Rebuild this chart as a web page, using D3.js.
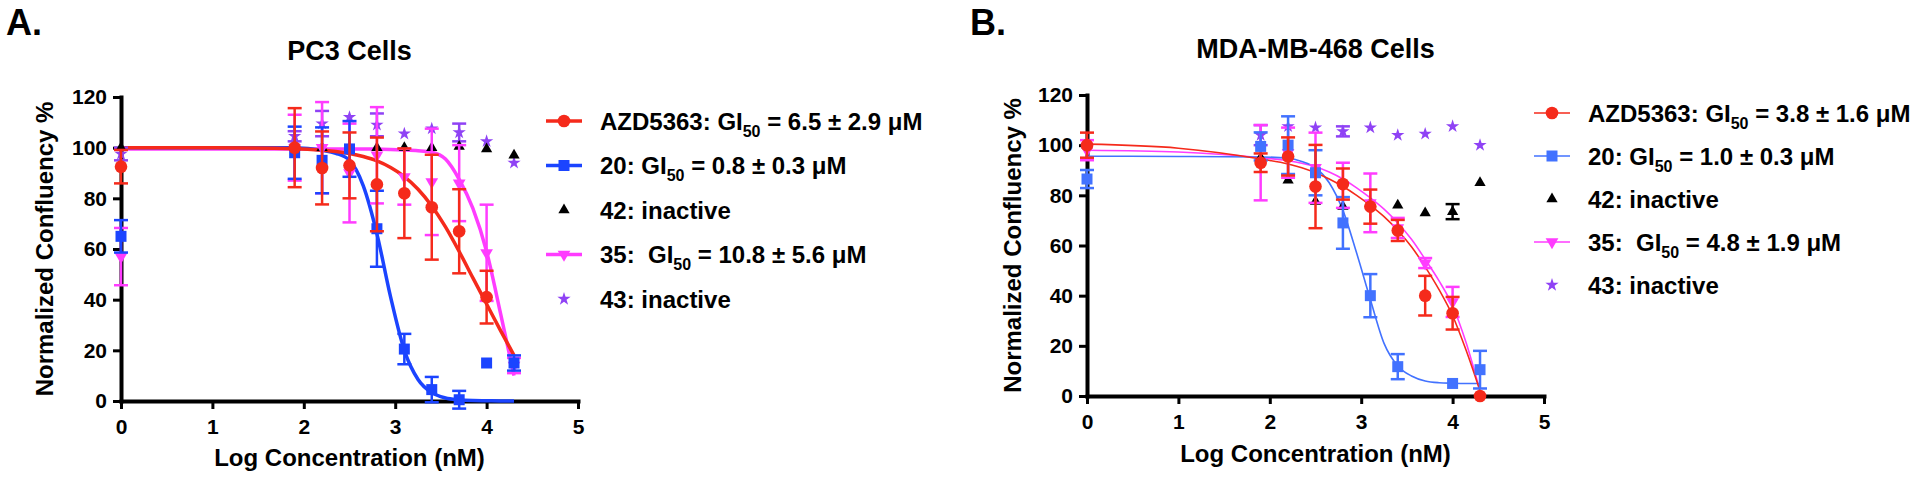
<!DOCTYPE html>
<html>
<head>
<meta charset="utf-8">
<title>PC3 / MDA-MB-468 confluency</title>
<style>
    body { margin: 0; background: #fff; }
    text { font-family: "Liberation Sans", Arial, sans-serif; font-weight: bold; fill: #000; }
    .axis path, .axis line { stroke: #000; }
    .axis .domain { stroke-width: 4px; stroke-linecap: square; }
    .axis .tick line { stroke-width: 3px; }
    .axis text { font-size: 21px; }
</style>
<script src="https://cdn.jsdelivr.net/npm/d3@7"></script>
</head>
<body>
<svg id="chart" width="1920" height="482"></svg>
<script>
// log concentration (nM) of the measured points
var logConc = [0, 1.9, 2.2, 2.5, 2.8, 3.1, 3.4, 3.7, 4.0, 4.3];
var xTicks = [0, 1, 2, 3, 4, 5];
var yTicks = [0, 20, 40, 60, 80, 100, 120];

// PC3 cells: mean and SD, null = not shown
var pc3AZD = [92.5, 100, 92, 93, 85.5, 82, 76.5, 67, 41, null];
var pc3AZDErr = [6.6, 15.6, 14.4, 13, 18.5, 17.7, 20.7, 16.6, 10.4, null];
var pc320 = [65, 98, 95, 99.5, 68, 20.5, 4.5, 0.5, 15, 15];
var pc320Err = [6.4, 10.3, 13, 11, 15, 6, 5, 3.5, 0, 3];
var pc335 = [57, 100, 100, 90, 97, 88.5, 86.5, 86, 58.5, 14];
var pc335Err = [11.3, 13, 18, 19.5, 19, 11, 21, 15, 19, 3];
var pc342 = [100, 100, 100, 100, 100, 100, 100, 100.5, 99.5, 97];
var pc342Err = [0, 0, 0, 0, 0, 0, 0, 0, 0, 0];
var pc343 = [97.5, 104.5, 109.5, 112, 109, 105.5, 107.5, 106, 102.5, 94];
var pc343Err = [2.5, 2, 5, 0, 4.5, 0, 0, 3.5, 0, 0];

// MDA-MB-468 cells
var mdaAZD = [100, 93, 95.5, 83.5, 84.5, 75.5, 66, 40, 33, 0];
var mdaAZDErr = [5, 3.7, 7.6, 16.6, 6.2, 6.8, 4.2, 7.9, 6.5, 0];
var mda20 = [86.5, 99.5, 100, 89, 69, 40, 11.7, null, 5, 10.5];
var mda20Err = [3.6, 5.6, 11.5, 9, 10.3, 8.6, 5, null, 0, 7.5];
var mda35 = [98, 93, 97, 91, 84, 77, 67, 53, 37.5, null];
var mda35Err = [4, 15, 10, 14, 9, 11.7, 4, 2, 6, null];
var mda42 = [100, 95, 86, 77.5, 75.5, 77, 76, 73, 73.5, 85];
var mda42Err = [0, 0, 0, 0, 0, 0, 0, 0, 3, 0];
var mda43 = [100, 104, 107.5, 107, 105.5, 107, 104, 104.5, 107.5, 100];
var mda43Err = [0, 4, 0, 0, 2, 0, 0, 0, 0, 0];

// fitted curves at these x positions
var fitX = [0, 1, 1.9, 2.2, 2.35, 2.5, 2.65, 2.8, 2.95, 3.1, 3.25, 3.4, 3.55, 3.7, 3.85, 4.0, 4.15, 4.3];
var pc3FitAZD = [100, 100, 99.6, 99, 98.5, 97.7, 96.5, 94.8, 92.2, 88.6, 83.6, 77, 68.7, 59, 48.6, 38.3, 28, 18];
var pc3Fit20 = [100, 100, 100, 99, 97.8, 95, 85, 66, 41, 20, 8.5, 3.3, 1.2, 0.5, 0.2, 0.1, 0, 0];
var pc3Fit35 = [99.5, 99.5, 99.5, 99.5, 99.5, 99.5, 99.5, 99.4, 99.3, 99.1, 98.8, 98.2, 95.5, 87.5, 76, 59, 35, 10];
var mdaFitAZD = [100.4, 98.8, 94.5, 92.5, 91, 89, 86.5, 83.5, 80, 76, 71.5, 66, 59.5, 51.5, 42.5, 32, 18, 2];
var mdaFit20 = [95.6, 95.5, 95.3, 94.8, 93.5, 91, 85, 74, 57, 38.5, 21, 12, 8, 6, 5.3, 5.1, 5, 5];
var mdaFit35 = [98, 97.3, 95, 93.8, 92.8, 91.4, 89.3, 86.5, 83, 79, 74.5, 69, 62.5, 54.5, 46, 36, 21, 2];

// legend labels: [before subscript, subscript, after]
var pc3Legend = [["AZD5363: GI", "50", " = 6.5 ± 2.9 μM"], ["20: GI", "50", " = 0.8 ± 0.3 μM"], ["42: inactive"],
    ["35:  GI", "50", " = 10.8 ± 5.6 μM"], ["43: inactive"]];
var mdaLegend = [["AZD5363: GI", "50", " = 3.8 ± 1.6 μM"], ["20: GI", "50", " = 1.0 ± 0.3 μM"], ["42: inactive"],
    ["35:  GI", "50", " = 4.8 ± 1.9 μM"], ["43: inactive"]];

var RED = "#f52a1b", MAGENTA = "#ff3cff", PURPLE = "#8f42f5", BLACK = "#000";

var svg = d3.select("#chart");

function markerPath(shape) {
    if (shape == "circle") return d3.symbol(d3.symbolCircle, 125)();
    if (shape == "square") return d3.symbol(d3.symbolSquare, 121)();
    if (shape == "triangle") return d3.symbol(d3.symbolTriangle, 55)();
    if (shape == "down") return d3.symbol(d3.symbolTriangle, 70)();
    return d3.symbol(d3.symbolStar, 55)();
}

function drawPanel(p) {
    var x = d3.scaleLinear().domain([0, 5]).range([p.left, p.right]);
    var y = d3.scaleLinear().domain([0, 120]).range([p.bottom, p.top]);
    var g = svg.append("g");

    g.append("text").attr("x", p.letterX).attr("y", 35).style("font-size", "36px").text(p.letter);
    g.append("text").attr("x", (p.left + p.right) / 2).attr("y", p.titleY)
        .attr("text-anchor", "middle").style("font-size", "27px").text(p.title);

    g.append("g").attr("class", "axis").attr("transform", "translate(0," + p.bottom + ")")
        .call(d3.axisBottom(x).tickValues(xTicks).tickFormat(d3.format("d")).tickSize(8).tickSizeOuter(0).tickPadding(10));
    g.append("g").attr("class", "axis").attr("transform", "translate(" + p.left + ",0)")
        .call(d3.axisLeft(y).tickValues(yTicks).tickSize(8).tickSizeOuter(0).tickPadding(6));

    g.append("text").attr("x", (p.left + p.right) / 2).attr("y", p.xTitleY)
        .attr("text-anchor", "middle").style("font-size", "24px").text("Log Concentration (nM)");
    g.append("text").attr("transform", "translate(" + p.yTitleX + "," + (p.top + p.bottom) / 2 + ") rotate(-90)")
        .attr("text-anchor", "middle").style("font-size", "24px").text("Normalized Confluency %");

    // fitted curves
    var line = d3.line().x(function(d) { return x(d[0]); }).y(function(d) { return y(d[1]); }).curve(d3.curveMonotoneX);
    p.series.forEach(function(s) {
        if (!s.fit) return;
        var pts = fitX.map(function(v, i) { return [v, s.fit[i]]; });
        g.append("path").datum(pts).attr("fill", "none").attr("stroke", s.color)
            .attr("stroke-width", p.curveWidth).attr("d", line);
    });

    // error bars and markers
    p.series.forEach(function(s) {
        var pts = logConc.map(function(v, i) { return { x: v, m: s.mean[i], e: s.err[i] }; })
            .filter(function(d) { return d.m != null; });
        var eb = g.append("g").attr("stroke", s.color).attr("stroke-width", 2.5);
        pts.filter(function(d) { return d.e > 0; }).forEach(function(d) {
            var cx = x(d.x);
            eb.append("line").attr("x1", cx).attr("x2", cx).attr("y1", y(d.m - d.e)).attr("y2", y(d.m + d.e));
            [d.m - d.e, d.m + d.e].forEach(function(v) {
                eb.append("line").attr("x1", cx - 7).attr("x2", cx + 7).attr("y1", y(v)).attr("y2", y(v));
            });
        });
        g.selectAll(null).data(pts).enter().append("path")
            .attr("d", markerPath(s.shape)).attr("fill", s.color)
            .attr("transform", function(d) {
                return "translate(" + x(d.x) + "," + y(d.m) + ")" + (s.shape == "down" ? " rotate(180)" : "");
            });
    });

    // legend
    p.legendOrder.forEach(function(si, row) {
        var s = p.series[si];
        var ly = p.legendY + row * p.legendStep;
        if (s.fit) {
            g.append("line").attr("x1", p.legendX - 18).attr("x2", p.legendX + 18).attr("y1", ly).attr("y2", ly)
                .attr("stroke", s.color).attr("stroke-width", p.curveWidth);
        }
        g.append("path").attr("d", markerPath(s.shape)).attr("fill", s.color)
            .attr("transform", "translate(" + p.legendX + "," + ly + ")" + (s.shape == "down" ? " rotate(180)" : ""));
        var lab = p.legend[row];
        var t = g.append("text").attr("x", p.legendX + 36).attr("y", ly + 8.5)
            .style("font-size", "24px").style("white-space", "pre");
        t.append("tspan").text(lab[0]);
        if (lab.length > 1) {
            t.append("tspan").attr("dy", 7).style("font-size", "16px").text(lab[1]);
            t.append("tspan").attr("dy", -7).text(lab[2]);
        }
    });
}

// draw order: stars, triangles, 35, 20, AZD5363 on top
drawPanel({
    letter: "A.", letterX: 6, title: "PC3 Cells", titleY: 60,
    left: 121, right: 578, top: 97, bottom: 401, xTitleY: 466, yTitleX: 53,
    curveWidth: 3.5, legendX: 564, legendY: 121, legendStep: 44.5, legend: pc3Legend,
    series: [
        { mean: pc343, err: pc343Err, color: PURPLE, shape: "star" },
        { mean: pc342, err: pc342Err, color: BLACK, shape: "triangle" },
        { mean: pc335, err: pc335Err, color: MAGENTA, shape: "down", fit: pc3Fit35 },
        { mean: pc320, err: pc320Err, color: "#1b44ff", shape: "square", fit: pc3Fit20 },
        { mean: pc3AZD, err: pc3AZDErr, color: RED, shape: "circle", fit: pc3FitAZD }
    ],
    legendOrder: [4, 3, 1, 2, 0]
});

drawPanel({
    letter: "B.", letterX: 970, title: "MDA-MB-468 Cells", titleY: 58,
    left: 1087, right: 1544, top: 95, bottom: 396, xTitleY: 462, yTitleX: 1021,
    curveWidth: 1.6, legendX: 1552, legendY: 113, legendStep: 43, legend: mdaLegend,
    series: [
        { mean: mda43, err: mda43Err, color: PURPLE, shape: "star" },
        { mean: mda42, err: mda42Err, color: BLACK, shape: "triangle" },
        { mean: mda35, err: mda35Err, color: MAGENTA, shape: "down", fit: mdaFit35 },
        { mean: mda20, err: mda20Err, color: "#4272ff", shape: "square", fit: mdaFit20 },
        { mean: mdaAZD, err: mdaAZDErr, color: RED, shape: "circle", fit: mdaFitAZD }
    ],
    legendOrder: [4, 3, 1, 2, 0]
});
</script>
</body>
</html>
